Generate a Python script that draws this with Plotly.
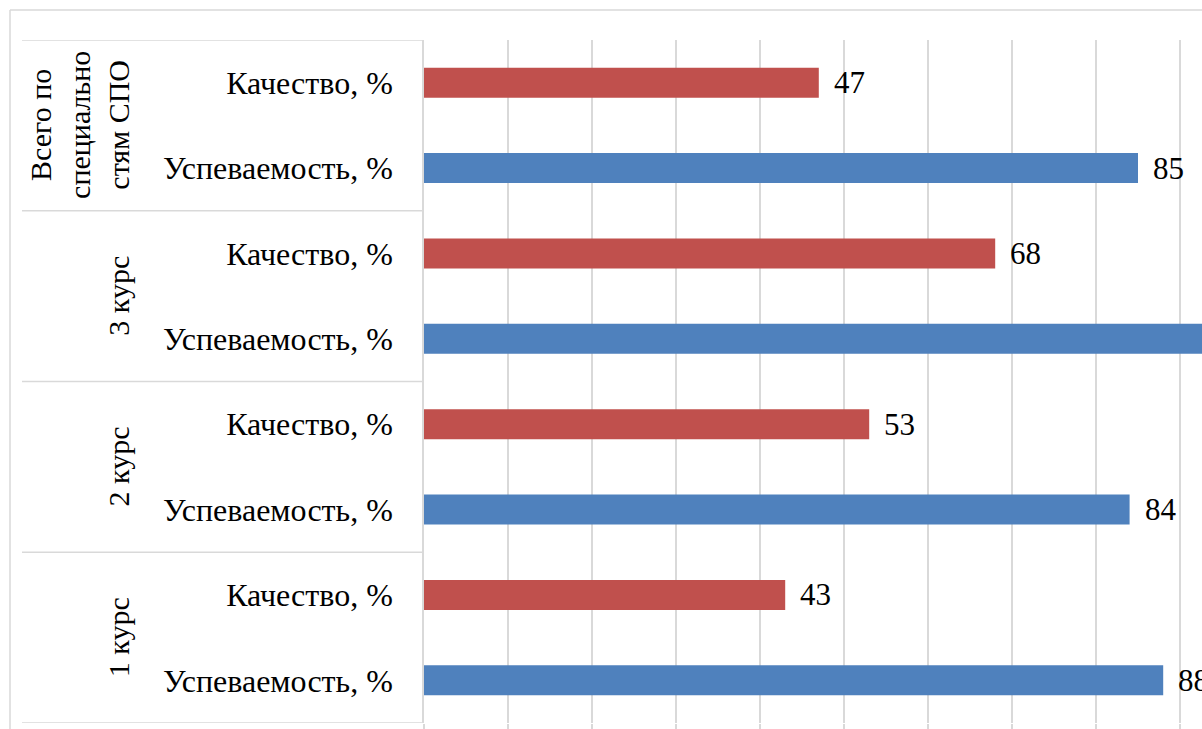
import plotly.graph_objects as go

# Data (bottom to top order of the category axis)
groups = ["1 курс", "2 курс", "3 курс", "Всего по<br>специально<br>стям СПО"]
metrics = ["Успеваемость, %", "Качество, %"]
uspevaemost = [88, 84, 100, 85]   # 3 курс value is cut off in the reference (estimated)
kachestvo = [43, 53, 68, 47]

RED = "#C0504D"
BLUE = "#4F81BD"
GRID = "#D9D9D9"
FONT = "'Liberation Serif', 'Times New Roman', 'DejaVu Serif', serif"

y_usp = [2 * i for i in range(len(groups))]
y_kach = [2 * i + 1 for i in range(len(groups))]

fig = go.Figure()
fig.add_trace(go.Bar(x=uspevaemost, y=y_usp, orientation="h", width=0.35,
                     marker=dict(color=BLUE, line=dict(width=0)), name=metrics[0],
                     hoverinfo="x"))
fig.add_trace(go.Bar(x=kachestvo, y=y_kach, orientation="h", width=0.35,
                     marker=dict(color=RED, line=dict(width=0)), name=metrics[1],
                     hoverinfo="x"))

annotations = []
for xs, ys in ((uspevaemost, y_usp), (kachestvo, y_kach)):
    for xv, yv in zip(xs, ys):
        annotations.append(dict(x=xv, y=yv, xref="x", yref="y", text=str(xv),
                                showarrow=False, xanchor="left", yanchor="middle",
                                xshift=13, font=dict(family=FONT, size=31, color="black")))

for i, g in enumerate(groups):
    annotations.append(dict(x=0, y=2 * i + 0.5, xref="paper", yref="y", text=g,
                            showarrow=False, xanchor="right", yanchor="middle",
                            xshift=-287, textangle=-90, align="center",
                            font=dict(family=FONT, size=30, color="black")))

W, H = 1202, 729
L, T, B = 424, 40, 4
pw = W - L
ph = H - T - B

shapes = []
for k in range(len(groups) + 1):
    shapes.append(dict(type="line", xref="paper", yref="y",
                       x0=(22 - L) / pw, x1=0, y0=2 * k - 0.5, y1=2 * k - 0.5,
                       line=dict(color=GRID, width=1.5)))
# outer chart border
bx = (10 - L) / pw
by = 1 + (T - 10) / ph
shapes.append(dict(type="line", xref="paper", yref="paper", x0=bx, x1=bx, y0=-0.2, y1=by,
                   line=dict(color=GRID, width=1.5)))
shapes.append(dict(type="line", xref="paper", yref="paper", x0=bx, x1=1.2, y0=by, y1=by,
                   line=dict(color=GRID, width=1.5)))

fig.update_layout(
    width=W, height=H,
    margin=dict(l=L, r=0, t=T, b=B, pad=0),
    paper_bgcolor="white", plot_bgcolor="white",
    showlegend=False,
    barmode="overlay",
    annotations=annotations,
    shapes=shapes,
    font=dict(family=FONT, size=29, color="black"),
)
fig.update_xaxes(range=[0, pw / 8.4], dtick=10, tick0=0, showgrid=True, gridcolor=GRID,
                 gridwidth=1.5, zeroline=False, showticklabels=False,
                 ticks="outside", ticklen=6, tickcolor=GRID, tickwidth=1.5, showline=False)
fig.update_yaxes(range=[-0.5, 2 * len(groups) - 0.5], tickmode="array",
                 tickvals=y_usp + y_kach,
                 ticktext=[metrics[0]] * len(groups) + [metrics[1]] * len(groups),
                 showgrid=False, zeroline=False, showline=True, linecolor=GRID, linewidth=1.5,
                 ticks="", ticklabelstandoff=23,
                 tickfont=dict(family=FONT, size=32, color="black"))

fig.write_html("out.html")
